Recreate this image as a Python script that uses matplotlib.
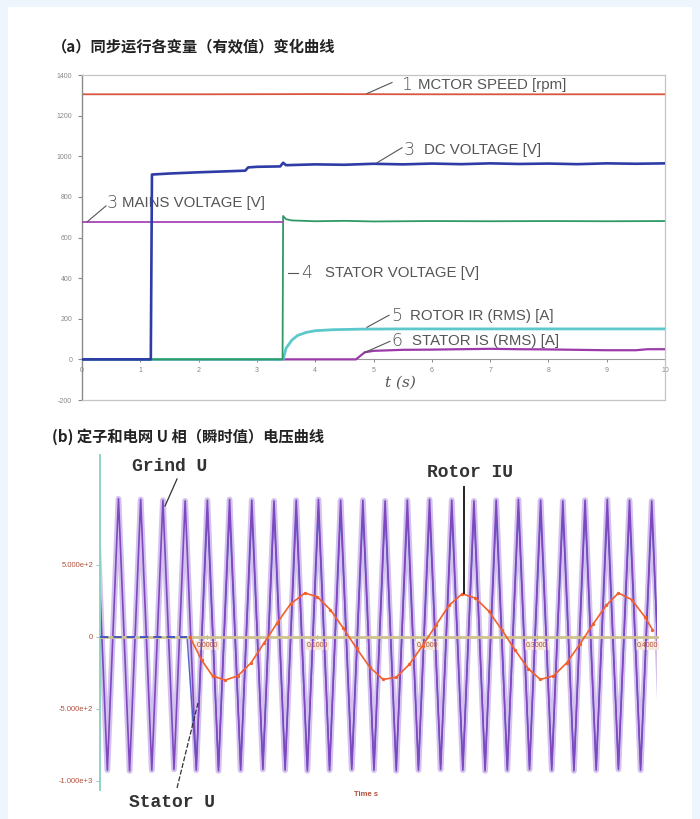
import matplotlib
matplotlib.use('Agg')
import matplotlib.pyplot as plt
from matplotlib.patches import Rectangle

plt.rcParams['font.family'] = ['Liberation Sans', 'Noto Sans CJK SC', 'DejaVu Sans']

# ---------------- panel (a) data ----------------
a_title = "（a）同步运行各变量（有效值）变化曲线"
a_xticks = [0, 1, 2, 3, 4, 5, 6, 7, 8, 9, 10]
a_yticks = [-200, 0, 200, 400, 600, 800, 1000, 1200, 1400]

speed_t = [0, 2.0, 4.0, 6.0, 8.0, 10]
speed_v = [1305, 1305, 1306, 1305, 1305, 1305]

dc_t = [0, 1.18, 1.20, 1.5, 2.0, 2.5, 2.80, 2.85, 3.0, 3.4, 3.45, 3.5, 4.0, 4.5, 5.0, 5.5, 6.0, 6.5, 7.0, 7.5, 8.0, 8.5, 9.0, 9.5, 10]
dc_v = [0, 0, 910, 915, 921, 926, 929, 945, 948, 950, 968, 956, 960, 958, 963, 960, 964, 961, 965, 962, 964, 961, 965, 963, 965]

mains_t = [0, 3.45]
mains_v = [677, 677]

statv_t = [0, 3.44, 3.45, 3.5, 3.6, 4.0, 4.5, 5.0, 6.0, 7.0, 8.0, 9.0, 10]
statv_v = [0, 0, 706, 690, 684, 680, 682, 679, 681, 680, 681, 680, 681]

rotir_t = [0, 3.45, 3.5, 3.6, 3.7, 3.85, 4.0, 4.3, 4.8, 5.5, 10]
rotir_v = [0, 0, 55, 95, 118, 133, 141, 146, 149, 150, 150]

statis_t = [0, 4.70, 4.85, 5.0, 5.5, 6.0, 6.5, 7.0, 7.5, 8.0, 8.5, 9.0, 9.5, 9.7, 10]
statis_v = [0, 0, 35, 42, 47, 48, 50, 52, 50, 49, 47, 45, 45, 50, 50]

# ---------------- panel (b) data ----------------
b_title = "(b) 定子和电网 U 相（瞬时值）电压曲线"
b_xticks = [0.0, 0.1, 0.2, 0.3, 0.4]
b_xticklabels = ["0.0000", "0.1000", "0.2000", "0.3000", "0.4000"]
b_yticks = [-1000, -500, 0, 500]
b_yticklabels = ["-1.000e+3", "-5.000e+2", "0", "5.000e+2"]

grid_peak_t = [-0.1007, -0.0805, -0.0603, -0.0401, -0.0199, 0.0003, 0.0205, 0.0407, 0.0609,
               0.0811, 0.1013, 0.1215, 0.1417, 0.1619, 0.1821, 0.2023, 0.2225, 0.2427,
               0.2629, 0.2831, 0.3033, 0.3235, 0.3437, 0.3639, 0.3841, 0.4043]
grid_peak_v = [950, 960, 955, 950, 945, 950, 955, 950, 945, 950, 955, 950, 950, 945,
               950, 955, 950, 945, 950, 955, 950, 945, 950, 955, 950, 945]
grid_trough_t = [-0.0906, -0.0704, -0.0502, -0.0300, -0.0098, 0.0104, 0.0306, 0.0508, 0.0710,
                 0.0912, 0.1114, 0.1316, 0.1518, 0.1720, 0.1922, 0.2124, 0.2326, 0.2528,
                 0.2730, 0.2932, 0.3134, 0.3336, 0.3538, 0.3740, 0.3942, 0.4144]
grid_trough_v = [-925, -930, -925, -920, -925, -930, -925, -920, -925, -930, -925, -920, -925,
                 -930, -925, -920, -925, -930, -925, -920, -925, -930, -925, -920, -925, -930]

stator_pre_t = [-0.0973, -0.0182]
stator_pre_v = [0, 0]
stator_peak_t = [0.0003, 0.0205, 0.0407, 0.0609, 0.0811, 0.1013, 0.1215, 0.1417, 0.1619,
                 0.1821, 0.2023, 0.2225, 0.2427, 0.2629, 0.2831, 0.3033, 0.3235, 0.3437,
                 0.3639, 0.3841, 0.4043]
stator_peak_v = [880, 870, 880, 875, 870, 880, 875, 870, 880, 875, 870, 880, 875, 870,
                 880, 875, 870, 880, 875, 870, 880]
stator_trough_t = [-0.0098, 0.0104, 0.0306, 0.0508, 0.0710, 0.0912, 0.1114, 0.1316, 0.1518,
                   0.1720, 0.1922, 0.2124, 0.2326, 0.2528, 0.2730, 0.2932, 0.3134, 0.3336,
                   0.3538, 0.3740, 0.3942, 0.4144]
stator_trough_v = [-900, -905, -900, -895, -900, -905, -900, -895, -900, -905, -900, -895,
                   -900, -905, -900, -895, -900, -905, -900, -895, -900, -905]

rotor_t = [-0.0155, -0.005, 0.005, 0.0165, 0.028, 0.040, 0.052, 0.064, 0.076, 0.089, 0.100,
           0.112, 0.124, 0.136, 0.148, 0.160, 0.172, 0.184, 0.196, 0.208, 0.220, 0.232, 0.244,
           0.256, 0.268, 0.280, 0.292, 0.303, 0.315, 0.327, 0.339, 0.351, 0.363, 0.374, 0.386,
           0.398, 0.405]
rotor_v = [0, -160, -270, -300, -270, -180, -40, 100, 230, 305, 280, 190, 60, -80, -210,
           -295, -280, -190, -60, 80, 220, 300, 270, 180, 50, -90, -220, -295, -270, -180,
           -50, 90, 220, 305, 260, 140, 50]

# ---------------- figure ----------------
fig = plt.figure(figsize=(7.0, 8.19), dpi=100)
fig.patch.set_facecolor('#eef5fc')
fig.patches.append(Rectangle((8/700, 0), (692-8)/700, 1-7/819, transform=fig.transFigure,
                             facecolor='white', edgecolor='none', zorder=-10))

fig.text(52/700, 1-47/819, a_title, fontsize=11, fontweight='bold',
         family=['Noto Sans CJK SC', 'DejaVu Sans'], va='center', ha='left', color='#222')
fig.text(52/700, 1-437/819, b_title, fontsize=11, fontweight='bold',
         family=['Noto Sans CJK SC', 'DejaVu Sans'], va='center', ha='left', color='#222')

# ---- panel (a) ----
axa = fig.add_axes([82/700, 1-400/819, (665-82)/700, (400-75)/819])
axa.set_xlim(0, 10)
axa.set_ylim(-200, 1400)
for s in ['top', 'right', 'bottom']:
    axa.spines[s].set_color('#c4c4c4')
    axa.spines[s].set_linewidth(0.9)
axa.spines['left'].set_color('#8a8a8a')
axa.spines['left'].set_linewidth(1.0)
axa.set_yticks(a_yticks)
axa.set_yticklabels([str(v) for v in a_yticks])
axa.tick_params(axis='y', length=3, width=0.8, colors='#888', labelsize=5, pad=4)
axa.set_xticks([])
sec = axa.secondary_xaxis(0.125)
sec.set_xticks(a_xticks)
sec.set_xticklabels([str(v) for v in a_xticks])
sec.tick_params(length=2.5, width=0.7, colors='#888', labelsize=5, pad=3)
sec.spines['bottom'].set_color('#999')
sec.spines['bottom'].set_linewidth(0.8)

axa.plot(speed_t, speed_v, color='#d9553f', lw=1.3)
axa.plot(statis_t, statis_v, color='#9b3aa8', lw=1.6, zorder=3)
axa.plot(rotir_t, rotir_v, color='#5cc8cc', lw=2.0, zorder=3)
axa.plot(statv_t, statv_v, color='#2e9a66', lw=1.3, zorder=3)
axa.plot(mains_t, mains_v, color='#a646b8', lw=1.3, zorder=3)
axa.plot(dc_t, dc_v, color='#2d3ca6', lw=1.9, zorder=4)

lab_c = '#555555'
def px(x, y):
    return ((x - 82) / 58.3, (360 - y) / 40.5 * 200)

def label_a(num, text, nx, ny, tx, leader=None):
    axa.text(*px(nx, ny), num, fontsize=12.5, color=lab_c, va='center', ha='left',
             family=['DejaVu Sans'], fontweight='light')
    axa.text(*px(tx, ny), text, fontsize=10.8, color=lab_c, va='center', ha='left')
    if leader is not None:
        (x0, y0), (x1, y1) = leader
        p0 = px(x0, y0); p1 = px(x1, y1)
        axa.plot([p0[0], p1[0]], [p0[1], p1[1]], color=lab_c, lw=0.8, zorder=5)

label_a('1', 'MCTOR SPEED [rpm]', 401, 86, 418, ((367, 95), (392, 84)))
label_a('3', 'DC VOLTAGE [V]', 404, 151, 424, ((377, 164), (402, 149)))
label_a('3', 'MAINS VOLTAGE [V]', 107, 204, 122, ((87, 223), (106, 207)))
label_a('4', 'STATOR VOLTAGE [V]', 301, 274, 325, ((288, 274), (298, 274)))
label_a('5', 'ROTOR IR (RMS) [A]', 391, 317, 410, ((367, 328), (389, 316)))
label_a('6', 'STATOR IS (RMS) [A]', 391, 342, 412, ((365, 353), (390, 342)))
axa.text(*px(400, 383), 't (s)', fontsize=11, color='#555', family=['DejaVu Serif'],
         style='italic', ha='center', va='center')

# ---- panel (b) ----
axb = fig.add_axes([100/700, 1-790/819, (657-100)/700, (790-455)/819])
axb.set_xlim(-0.0973, 0.4091)
axb.set_ylim(-1063, 1264)
axb.patch.set_alpha(0)
axb.spines['top'].set_visible(False)
axb.spines['right'].set_visible(False)
axb.spines['left'].set_color('#8fd3c4')
axb.spines['left'].set_linewidth(1.4)
axb.spines['bottom'].set_position(('data', 0))
axb.spines['bottom'].set_color('#cfc291')
axb.spines['bottom'].set_linewidth(2.0)
axb.set_yticks(b_yticks)
axb.set_yticklabels(b_yticklabels)
axb.tick_params(axis='y', length=3, width=0.8, colors='#8fd3c4', labelcolor='#b2503c',
                labelsize=5.5, pad=2)
axb.set_xticks(b_xticks)
axb.set_xticklabels(b_xticklabels)
axb.tick_params(axis='x', length=3, width=0.8, colors='#4a9a70', labelcolor='#b2503c',
                labelsize=5, pad=2, direction='inout')
for lab in axb.get_xticklabels():
    lab.set_bbox(dict(facecolor='#f6e8dc', edgecolor='none', pad=0.8))

grid_pts = sorted(zip(grid_peak_t + grid_trough_t, grid_peak_v + grid_trough_v))
gt = [p[0] for p in grid_pts]; gv = [p[1] for p in grid_pts]
axb.plot(gt, gv, color='#d3c2ee', lw=4.2, zorder=1)

st_pts = sorted(zip(stator_pre_t + stator_peak_t + stator_trough_t,
                    stator_pre_v + stator_peak_v + stator_trough_v))
st_t = [p[0] for p in st_pts]; st_v = [p[1] for p in st_pts]
axb.plot(st_t[1:], st_v[1:], color='#3546c0', lw=1.0, alpha=0.8, zorder=1.5)
axb.plot(gt, gv, color='#8048c0', lw=1.2, zorder=2)
axb.plot(stator_pre_t, stator_pre_v, color='#2f45c8', lw=1.2, ls=(0, (5, 3)), zorder=4)

axb.plot(rotor_t, rotor_v, color='#f2602c', lw=1.2, marker='o', ms=1.4, zorder=5)

def pb(x, y):
    return ((x - 207) / 1100, (637 - y) * 500 / 72)

ann_font = dict(family=['Liberation Mono', 'DejaVu Sans Mono'], fontsize=13, color='#333',
                fontweight='bold')
axb.text(*pb(170, 466), 'Grind U', ha='center', va='center', clip_on=False, **ann_font)
axb.text(*pb(470, 472), 'Rotor IU', ha='center', va='center', clip_on=False, **ann_font)
axb.text(*pb(172, 803), 'Stator U', ha='center', va='center', clip_on=False, **ann_font)
p0 = pb(177, 479); p1 = pb(165, 506)
axb.plot([p0[0], p1[0]], [p0[1], p1[1]], color='#333', lw=0.9, zorder=6)
p0 = pb(464, 487); p1 = pb(464, 593)
axb.plot([p0[0], p1[0]], [p0[1], p1[1]], color='#222', lw=1.4, zorder=6)
p0 = pb(177, 788); p1 = pb(198, 703)
axb.plot([p0[0], p1[0]], [p0[1], p1[1]], color='#333', lw=0.9, ls=(0, (4, 1.5)), zorder=6,
         clip_on=False)
axb.text(*pb(366, 795), 'Time s', fontsize=5.5, color='#b2503c', fontweight='bold',
         ha='center', va='center', clip_on=False)

fig.savefig('out.png', dpi=100, facecolor=fig.get_facecolor())
